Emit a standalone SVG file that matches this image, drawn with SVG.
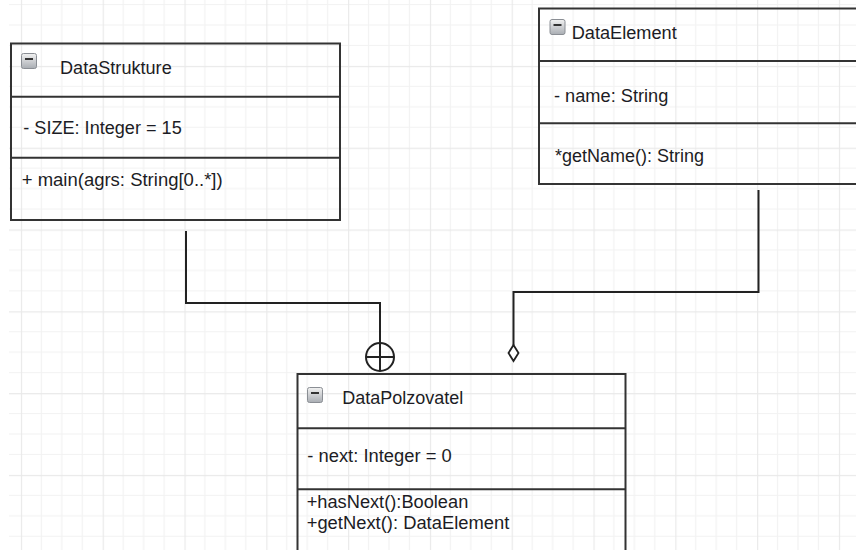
<svg xmlns="http://www.w3.org/2000/svg" width="856" height="550" viewBox="0 0 856 550">
<style>
.box{fill:none;stroke:#333;stroke-width:2}
.div{stroke:#333;stroke-width:2}
.t{font-family:"Liberation Sans",Arial,sans-serif;font-size:17.5px;fill:#1c1c24}
.conn{fill:none;stroke:#222;stroke-width:2}
</style>
<defs>
<linearGradient id="ig" x1="0" y1="0" x2="0" y2="1">
<stop offset="0" stop-color="#f2f2f2"/>
<stop offset="1" stop-color="#a9adb3"/>
</linearGradient>
<pattern id="grid" patternUnits="userSpaceOnUse" x="20.9" y="-15.9" width="81.8" height="81.8">
<path d="M20.45,0V81.8M40.9,0V81.8M61.35,0V81.8M0,20.45H81.8M0,40.9H81.8M0,61.35H81.8" stroke="#f2f2f2" stroke-width="1.2" fill="none"/>
<path d="M0.5,0V81.8M0,0.5H81.8" stroke="#e9e9e9" stroke-width="1.3" fill="none"/>
</pattern>
<g id="icon">
<rect x="0.5" y="0.5" width="15" height="15" rx="2" fill="url(#ig)" stroke="#8a8e94"/>
<line x1="4" y1="6" x2="12" y2="6" stroke="#333" stroke-width="2"/>
</g>
</defs>
<rect width="856" height="550" fill="#fff"/>
<rect x="9" y="0" width="847" height="550" fill="url(#grid)"/>

<g id="DataStrukture">
<rect class="box" x="11" y="43.5" width="329" height="176.5"/>
<line class="div" x1="11" y1="96.7" x2="340" y2="96.7"/>
<line class="div" x1="11" y1="157.7" x2="340" y2="157.7"/>
<use href="#icon" x="21" y="53"/>
<text class="t" x="60" y="73.5" textLength="111.7" lengthAdjust="spacingAndGlyphs">DataStrukture</text>
<text class="t" x="23.3" y="134" textLength="158.4" lengthAdjust="spacingAndGlyphs">- SIZE: Integer = 15</text>
<text class="t" x="21.7" y="186" textLength="201" lengthAdjust="spacingAndGlyphs">+ main(agrs: String[0..*])</text>
</g>

<g id="DataElement">
<rect class="box" x="539" y="8.5" width="330" height="175.5"/>
<line class="div" x1="539" y1="61" x2="856" y2="61"/>
<line class="div" x1="539" y1="123.3" x2="856" y2="123.3"/>
<use href="#icon" x="549.5" y="19"/>
<text class="t" x="571.7" y="38.5" textLength="105" lengthAdjust="spacingAndGlyphs">DataElement</text>
<text class="t" x="554" y="101.7" textLength="114.3" lengthAdjust="spacingAndGlyphs">- name: String</text>
<text class="t" x="555" y="161.7" textLength="149" lengthAdjust="spacingAndGlyphs">*getName(): String</text>
</g>

<g id="DataPolzovatel">
<rect class="box" x="297.5" y="374" width="328" height="190"/>
<line class="div" x1="297.5" y1="428.3" x2="625.5" y2="428.3"/>
<line class="div" x1="297.5" y1="489.3" x2="625.5" y2="489.3"/>
<use href="#icon" x="307" y="387"/>
<text class="t" x="342.3" y="404" textLength="121" lengthAdjust="spacingAndGlyphs">DataPolzovatel</text>
<text class="t" x="307.3" y="461.7" textLength="144.4" lengthAdjust="spacingAndGlyphs">- next: Integer = 0</text>
<text class="t" x="306.7" y="508.3" textLength="161.6" lengthAdjust="spacingAndGlyphs">+hasNext():Boolean</text>
<text class="t" x="306.7" y="529.3" textLength="202.6" lengthAdjust="spacingAndGlyphs">+getNext(): DataElement</text>
</g>

<g id="connectors">
<path class="conn" d="M186,231V303H380V371"/>
<circle class="conn" cx="380" cy="357" r="14"/>
<line class="conn" x1="366" y1="357" x2="394" y2="357"/>
<path class="conn" d="M758.5,190V292H513.5V345"/>
<path d="M513.5,345L518.5,353L513.5,361L508.5,353Z" fill="#fff" stroke="#222" stroke-width="1.8"/>
</g>
</svg>
